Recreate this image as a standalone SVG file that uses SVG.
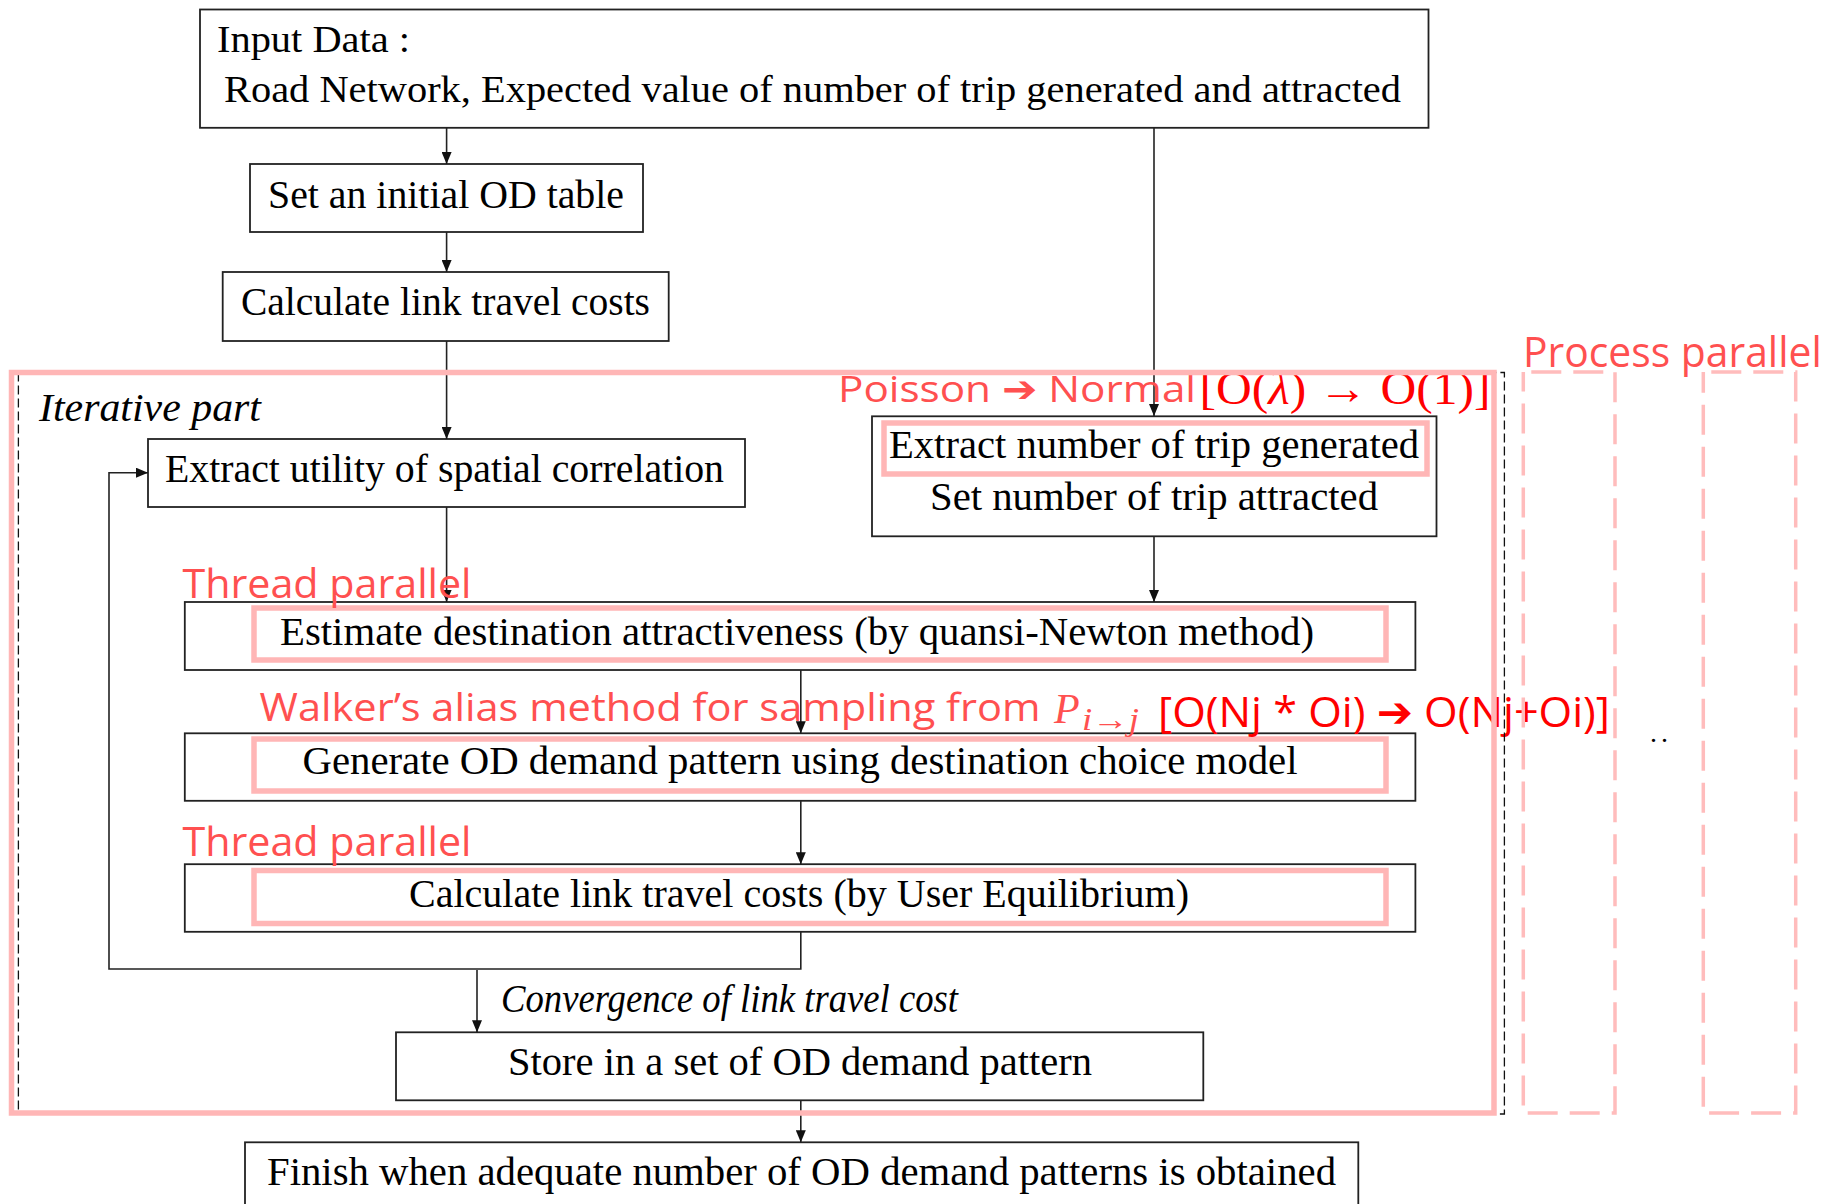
<svg xmlns="http://www.w3.org/2000/svg" width="1834" height="1204" viewBox="0 0 1834 1204">
<defs>
<style>
.box{fill:#fff;stroke:#222;stroke-width:1.8}
.pk{fill:none;stroke:#FFB6B6;stroke-width:5.5}
.t{font-family:"Liberation Serif","Times New Roman",serif;font-size:40px;fill:#000}
.ti{font-family:"Liberation Serif","Times New Roman",serif;font-size:40px;font-style:italic;fill:#000}
.c{fill:none;stroke:#222;stroke-width:1.6}
.lr{font-family:"Open Sans","DejaVu Sans",sans-serif;fill:#FF5050}
.dp{fill:none;stroke:#FFBCBC;stroke-width:3.5;stroke-dasharray:30 12}
</style>
<marker id="ah" markerWidth="12" markerHeight="10" refX="12" refY="5" orient="auto" markerUnits="userSpaceOnUse">
<path d="M0,0 L12,5 L0,10 z" fill="#111"/>
</marker>
</defs>
<rect width="1834" height="1204" fill="#fff"/>

<g id="input">
<rect class="box" x="200" y="9.5" width="1228.5" height="118.3"/>
<text class="t" x="217" y="52" textLength="193" lengthAdjust="spacingAndGlyphs" style="font-size:38px">Input Data :</text>
<text class="t" x="224" y="102" textLength="1177" lengthAdjust="spacingAndGlyphs" style="font-size:38px">Road Network, Expected value of number of trip generated and attracted</text>
</g>
<g id="set-initial">
<rect class="box" x="250" y="164" width="393" height="68"/>
<text class="t" x="268" y="208" textLength="356" lengthAdjust="spacingAndGlyphs">Set an initial OD table</text>
</g>
<g id="calc-initial">
<rect class="box" x="222.7" y="272" width="446" height="69"/>
<text class="t" x="241" y="315" textLength="409" lengthAdjust="spacingAndGlyphs">Calculate link travel costs</text>
</g>
<g id="iterative-label">
<text class="ti" x="39" y="421" textLength="222" lengthAdjust="spacingAndGlyphs">Iterative part</text>
</g>
<g id="extract-utility">
<rect class="box" x="148" y="439" width="597" height="68"/>
<text class="t" x="165" y="482" textLength="559" lengthAdjust="spacingAndGlyphs">Extract utility of spatial correlation</text>
</g>
<g id="extract-number">
<rect class="box" x="872" y="416.3" width="564.5" height="120"/>
<rect class="pk" x="884" y="423" width="543" height="51"/>
<text class="t" x="889" y="458" textLength="530" lengthAdjust="spacingAndGlyphs">Extract number of trip generated</text>
<text class="t" x="930" y="510" textLength="448" lengthAdjust="spacingAndGlyphs">Set number of trip attracted</text>
</g>
<g id="estimate">
<rect class="box" x="184.8" y="602" width="1230.6" height="68"/>
<rect class="pk" x="254" y="608" width="1132" height="52"/>
<text class="t" x="280" y="645" textLength="1034" lengthAdjust="spacingAndGlyphs">Estimate destination attractiveness (by quansi-Newton method)</text>
</g>
<g id="generate">
<rect class="box" x="184.8" y="733.3" width="1230.6" height="67.5"/>
<rect class="pk" x="254" y="739" width="1132" height="52"/>
<text class="t" x="302.5" y="774" textLength="995" lengthAdjust="spacingAndGlyphs">Generate OD demand pattern using destination choice model</text>
</g>
<g id="calc-ue">
<rect class="box" x="184.8" y="864.2" width="1230.6" height="67.6"/>
<rect class="pk" x="254" y="870.5" width="1132" height="53"/>
<text class="t" x="409" y="907" textLength="780" lengthAdjust="spacingAndGlyphs">Calculate link travel costs (by User Equilibrium)</text>
</g>
<g id="store">
<rect class="box" x="396" y="1032.3" width="807.3" height="68"/>
<text class="t" x="508" y="1075" textLength="584" lengthAdjust="spacingAndGlyphs">Store in a set of OD demand pattern</text>
</g>
<g id="finish">
<rect class="box" x="245" y="1142.3" width="1113.3" height="70"/>
<text class="t" x="267" y="1185" textLength="1069" lengthAdjust="spacingAndGlyphs">Finish when adequate number of OD demand patterns is obtained</text>
</g>

<g id="connectors">
<line class="c" x1="446.6" y1="128" x2="446.6" y2="164" marker-end="url(#ah)"/>
<line class="c" x1="446.6" y1="232" x2="446.6" y2="272" marker-end="url(#ah)"/>
<line class="c" x1="446.6" y1="341" x2="446.6" y2="439" marker-end="url(#ah)"/>
<line class="c" x1="1154" y1="128" x2="1154" y2="416" marker-end="url(#ah)"/>
<line class="c" x1="446.6" y1="507" x2="446.6" y2="602" marker-end="url(#ah)"/>
<line class="c" x1="1154" y1="536.3" x2="1154" y2="602" marker-end="url(#ah)"/>
<line class="c" x1="800.8" y1="670" x2="800.8" y2="733.3" marker-end="url(#ah)"/>
<line class="c" x1="800.8" y1="800.8" x2="800.8" y2="864.2" marker-end="url(#ah)"/>
<polyline class="c" points="800.8,931.8 800.8,969 109,969 109,472.7 148,472.7" marker-end="url(#ah)"/>
<line class="c" x1="477" y1="970" x2="477" y2="1032.3" marker-end="url(#ah)"/>
<text class="ti" x="501" y="1012" textLength="457" lengthAdjust="spacingAndGlyphs">Convergence of link travel cost</text>
<line class="c" x1="800.8" y1="1100.3" x2="800.8" y2="1142.3" marker-end="url(#ah)"/>
</g>

<g id="annotations">
<text class="lr" x="838" y="402" font-size="37" textLength="358" lengthAdjust="spacingAndGlyphs">Poisson ➔ Normal</text>
<text x="1199.5" y="404" font-family="Liberation Serif, serif" font-size="46" fill="#FF0000" textLength="291" lengthAdjust="spacingAndGlyphs">[O(<tspan font-style="italic">λ</tspan>) → O(1)]</text>
<text class="lr" x="182.5" y="598.3" font-size="40" textLength="289" lengthAdjust="spacingAndGlyphs">Thread parallel</text>
<text class="lr" x="259.5" y="721" font-size="38" textLength="781" lengthAdjust="spacingAndGlyphs">Walker’s alias method for sampling from</text>
<text x="1054" y="722.7" font-family="Liberation Serif, serif" font-style="italic" font-size="42" fill="#FF5050">P</text>
<text x="1082" y="730" font-family="Liberation Serif, serif" font-style="italic" font-size="31" fill="#FF5050" textLength="57" lengthAdjust="spacingAndGlyphs">i→j</text>
<text class="lr" x="1158" y="727" font-size="42" style="fill:#FF0000" textLength="452" lengthAdjust="spacingAndGlyphs">[O(Nj * Oi) ➔ O(Nj+Oi)]</text>
<text class="lr" x="182.5" y="856" font-size="40" textLength="289" lengthAdjust="spacingAndGlyphs">Thread parallel</text>
<text class="lr" x="1523" y="366.7" font-size="42" textLength="298.7" lengthAdjust="spacingAndGlyphs">Process parallel</text>
<text x="1650" y="742" font-family="Liberation Serif, serif" font-size="28" fill="#000" letter-spacing="4">..</text>
</g>

<g id="iterative-part">
<rect x="18.4" y="372.5" width="1486" height="741.5" fill="none" stroke="#111" stroke-width="1.3" stroke-dasharray="9 4"/>
<rect x="11.5" y="372.5" width="1482.5" height="740.5" fill="none" stroke="#FFB6B6" stroke-width="5.5"/>
</g>
<g id="process-parallel">
<rect class="dp" x="1523.3" y="372" width="91.7" height="741" stroke-dashoffset="-8"/>
<rect class="dp" x="1703.3" y="372" width="92.4" height="741" stroke-dashoffset="-8"/>
</g>
</svg>
